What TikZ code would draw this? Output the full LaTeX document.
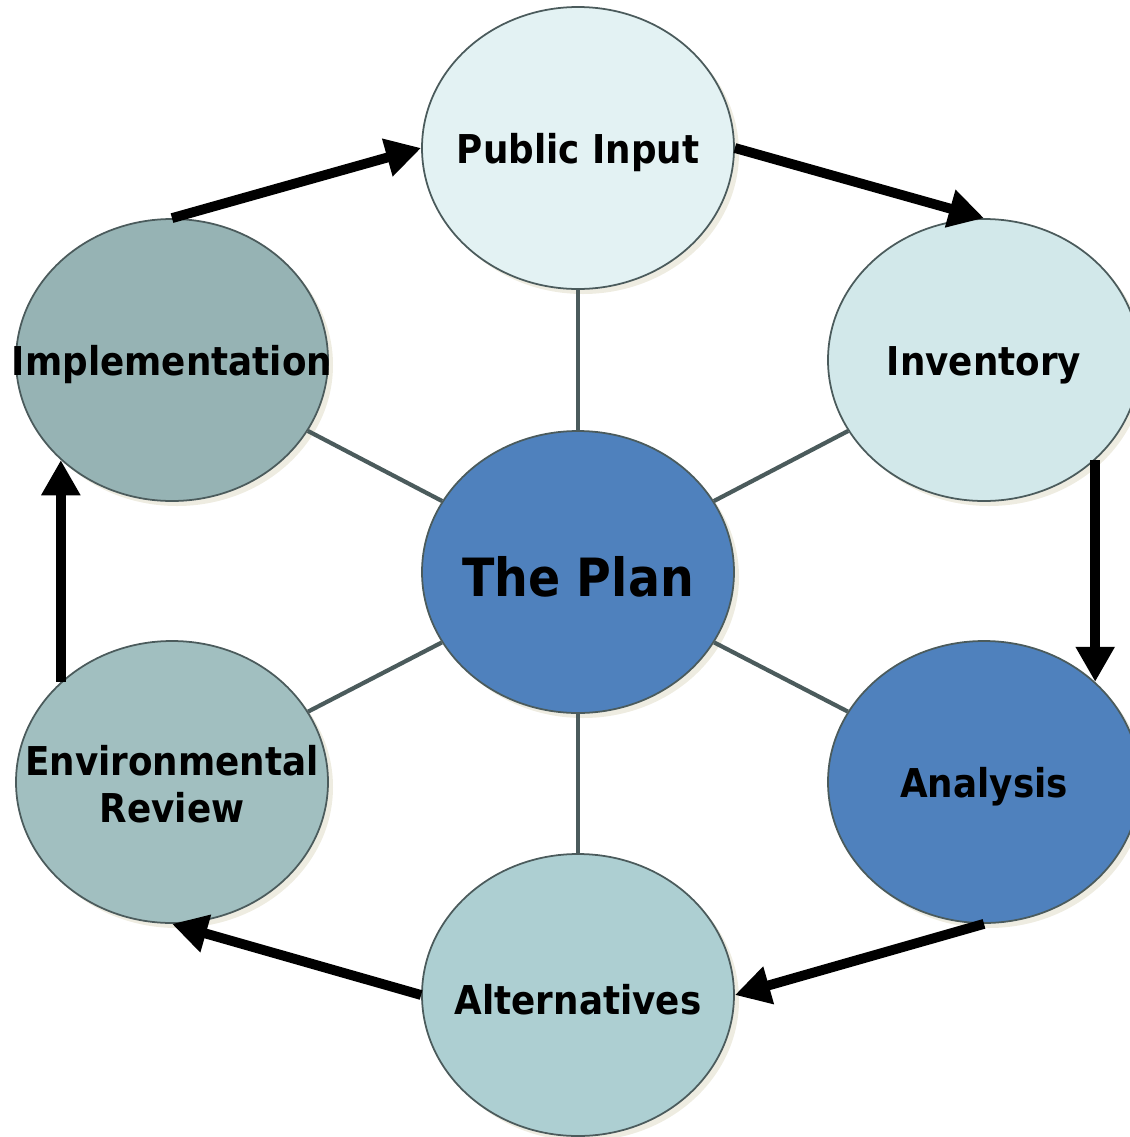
\documentclass[tikz,border=0pt]{standalone}
\usepackage{fontspec}
\setmainfont{DejaVu Sans}[FakeStretch=0.9]
\definecolor{cPub}{HTML}{E3F2F3}
\definecolor{cInv}{HTML}{D2E8EA}
\definecolor{cBlue}{HTML}{4F81BD}
\definecolor{cAlt}{HTML}{ADCFD2}
\definecolor{cEnv}{HTML}{A1BFC0}
\definecolor{cImp}{HTML}{96B3B4}
\definecolor{cEdge}{HTML}{4B5B5C}
\definecolor{cShade}{HTML}{EEECE1}
\usetikzlibrary{shapes.geometric}
\usetikzlibrary{arrows.meta}
\usetikzlibrary{shadows}

\begin{document}
\begin{tikzpicture}[
		bubble/.style={ellipse, draw=cEdge, line width=0.5pt, minimum width=3.12cm, minimum height=2.82cm, inner sep=0pt,
			drop shadow={shadow xshift=0.05cm, shadow yshift=-0.05cm, fill=cShade, opacity=1}},
		word/.style={font=\bfseries\fontsize{11.3}{13.4}\selectfont, align=center, yshift=-0.05cm},
		spoke/.style={draw=cEdge, line width=1.2pt},
		flow/.style={line width=2.8pt, -{Triangle[length=10pt,width=10.5pt]}}
	]
		\useasboundingbox (0,0) rectangle (11.3,-11.37);
		% the wheel
		\node[bubble, fill=cPub] (pub) at (5.78,-1.48) {};
		\node[bubble, fill=cInv] (inv) at (9.84,-3.60) {};
		\node[bubble, fill=cBlue] (ana) at (9.84,-7.82) {};
		\node[bubble, fill=cAlt] (alt) at (5.78,-9.95) {};
		\node[bubble, fill=cEnv] (env) at (1.72,-7.82) {};
		\node[bubble, fill=cImp] (imp) at (1.72,-3.60) {};
		\node[bubble, fill=cBlue] (plan) at (5.78,-5.72) {};
		\foreach \n in {pub,inv,ana,alt,env,imp}
			\draw[spoke] (plan) -- (\n);
		% labels
		\node[word] (pubT) at (pub) {Public Input};
		\node[word] (invT) at (inv) {Inventory};
		\node[word] (anaT) at (ana) {Analysis};
		\node[word] (altT) at (alt) {Alternatives};
		\node[word, yshift=0.03cm] (envT) at (env) {Environmental\\Review};
		\node[word] (impT) at (imp) {Implementation};
		\node[word, font=\bfseries\fontsize{15}{18}\selectfont] (planT) at (plan) {The Plan};
		% the cycle
		\draw[flow] (pub.east) -- (inv.north);
		\draw[flow] (inv.-42) -- (inv.-42 |- ana.42);
		\draw[flow] (ana.south) -- (alt.east);
		\draw[flow] (alt.west) -- (env.south);
		\draw[flow] (env.138) -- (env.138 |- imp.-138);
		\draw[flow] (imp.north) -- (pub.west);
\end{tikzpicture}
\end{document}
